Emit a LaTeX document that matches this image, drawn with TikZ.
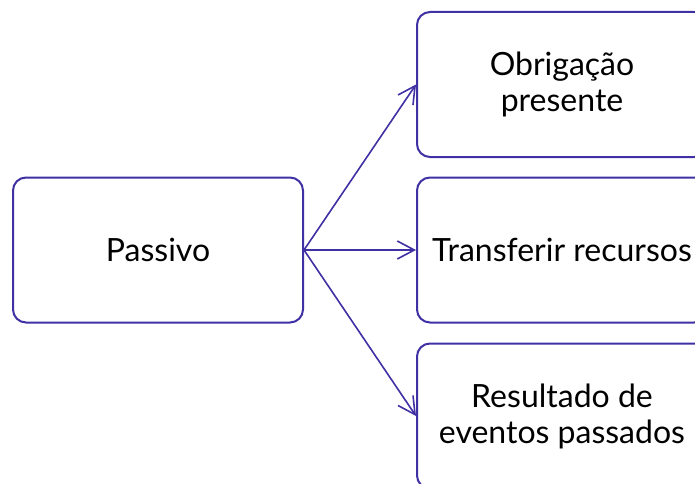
\documentclass[tikz,border=0pt]{standalone}
\usepackage{fontspec}
\setmainfont{Lato}
\usetikzlibrary{arrows.meta}
\definecolor{boxc}{RGB}{63,48,163}
\begin{document}
\begin{tikzpicture}[x=1pt,y=1pt,
  box/.style={draw=boxc, line width=2pt, rounded corners=13pt, minimum width=290pt, minimum height=145pt, inner sep=0pt, align=center, font=\fontsize{32}{36}\selectfont},
  conn/.style={draw=boxc, line width=1.6pt, -{Straight Barb[length=17pt,width=18pt]}}]
\useasboundingbox (0,0) rectangle (695,483);
\clip (0,0) rectangle (695,483);
\node[box] (p) at (158,233) {Passivo};
\node[box] (o) at (562,398.5) {Obrigação\\presente};
\node[box] (t) at (562,233) {Transferir recursos};
\node[box] (r) at (562,67) {Resultado de\\eventos passados};
\draw[conn] (p.east) -- (o.west);
\draw[conn] (p.east) -- (t.west);
\draw[conn] (p.east) -- (r.west);
\end{tikzpicture}
\end{document}
